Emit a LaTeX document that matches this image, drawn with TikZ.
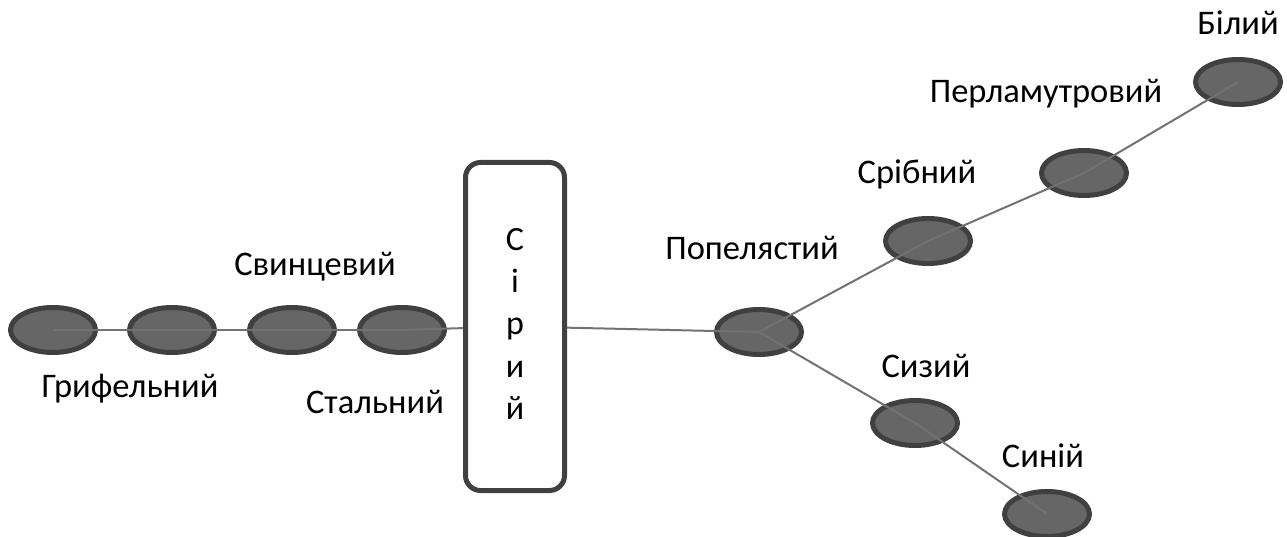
\documentclass[tikz,border=0pt]{standalone}
\usepackage{fontspec}
\setmainfont{Carlito}
\usetikzlibrary{shapes.geometric}
\definecolor{ellfill}{HTML}{666666}
\definecolor{ellborder}{HTML}{404040}
\definecolor{edgecol}{HTML}{727272}
\tikzset{
  blob/.style={ellipse, draw=ellborder, fill=ellfill, line width=5pt, minimum width=85pt, minimum height=45pt, inner sep=0pt},
  lbl/.style={anchor=base, inner sep=0pt, font=\fontsize{34.5}{41}\selectfont},
  link/.style={draw=edgecol, line width=2pt},
  colbox/.style={rectangle, rounded corners=15pt, draw=ellborder, line width=5pt, fill=white, minimum width=99pt, minimum height=328pt, inner sep=0pt, align=center, font=\fontsize{34}{42.25}\selectfont}
}
\begin{document}
\begin{tikzpicture}[x=1pt, y=-1pt]
\useasboundingbox (0,0) rectangle (1287,537);
% nodes
\node[blob] (e1) at (53,330) {};
\node[blob] (e2) at (172,330) {};
\node[blob] (e3) at (292,330) {};
\node[blob] (e4) at (402,330) {};
\node[colbox] (box) at (515,326.5) {\raisebox{4.5pt}{\begin{tabular}{@{}c@{}}С\\і\\р\\и\\й\end{tabular}}};
\node[blob] (pop) at (759,332) {};
\node[blob] (srb) at (928,241) {};
\node[blob] (per) at (1084,173) {};
\node[blob] (bil) at (1238,82) {};
\node[blob] (syz) at (915,423) {};
\node[blob] (syn) at (1047,514) {};
% connectors
\draw[link] (e1.center) -- (e2.center);
\draw[link] (e2.center) -- (e3.center);
\draw[link] (e3.center) -- (e4.center);
\draw[link] (e4.center) -- (box);
\draw[link] (box) -- (pop.center);
\draw[link] (pop.center) -- (srb.center);
\draw[link] (srb.center) -- (per.center);
\draw[link] (per.center) -- (bil.center);
\draw[link] (pop.center) -- (syz.center);
\draw[link] (syz.center) -- (syn.center);
% labels
\node[lbl] (l1) at (130,397) {Грифельний};
\node[lbl] (l2) at (315,276) {Свинцевий};
\node[lbl] (l3) at (375,413) {Стальний};
\node[lbl] (l4) at (752,260) {Попелястий};
\node[lbl] (l5) at (917,184) {Срібний};
\node[lbl] (l6) at (1046,103) {Перламутровий};
\node[lbl] (l7) at (1238,35) {Білий};
\node[lbl] (l8) at (926,377) {Сизий};
\node[lbl] (l9) at (1043,467) {Синій};
\end{tikzpicture}
\end{document}
